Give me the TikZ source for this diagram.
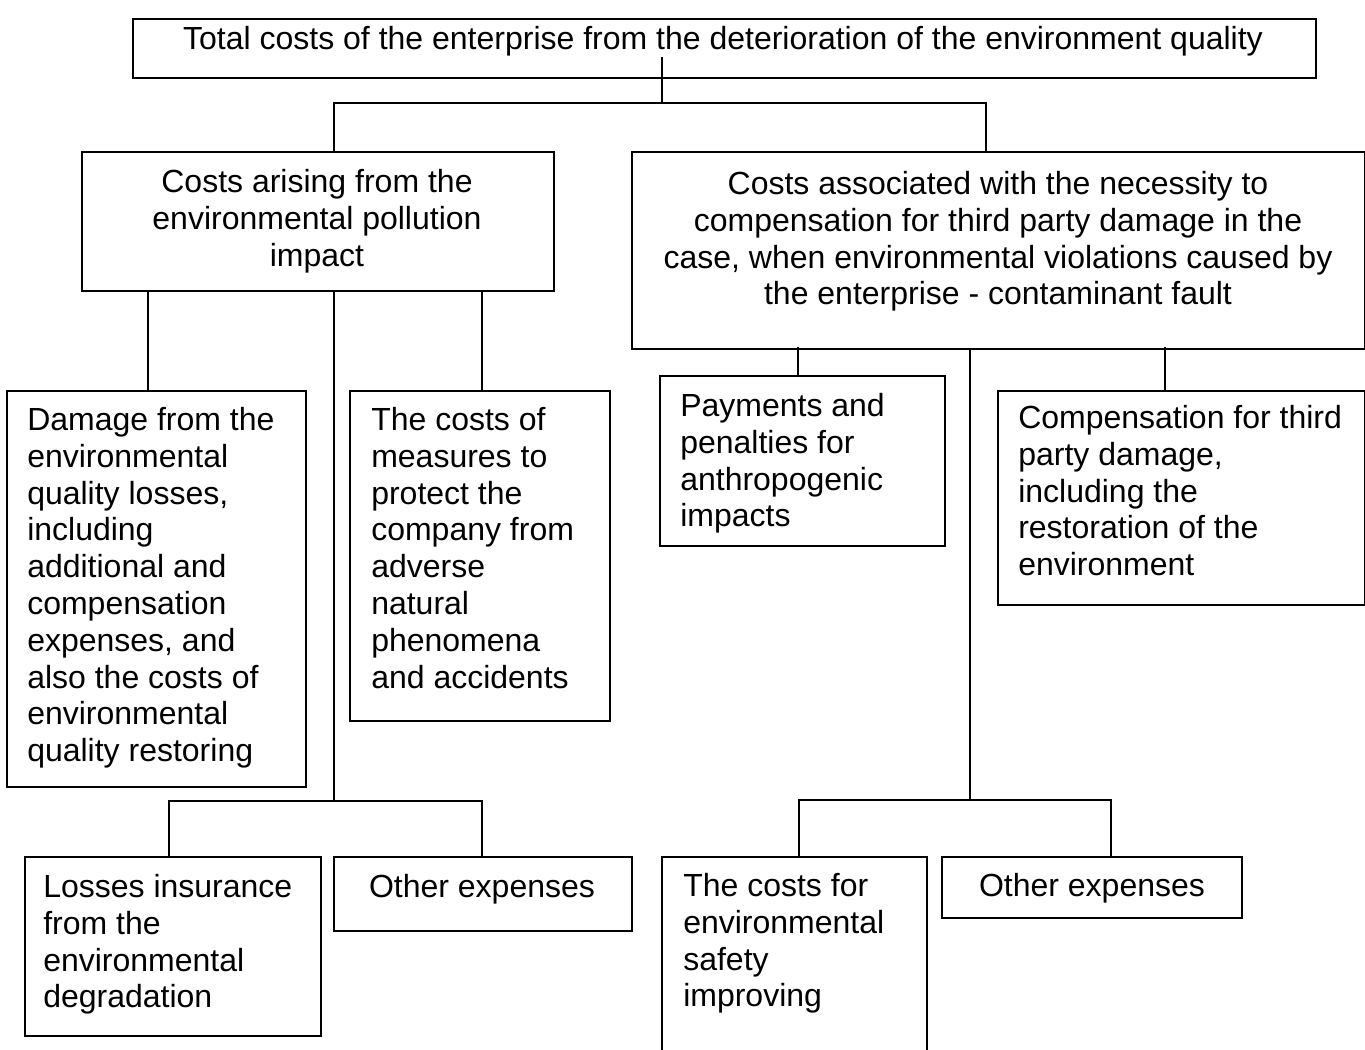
\documentclass[tikz,border=0pt]{standalone}
\usepackage{fontspec}
\setmainfont{Liberation Sans}
\begin{document}
\begin{tikzpicture}[x=0.75pt,y=-0.75pt,
  box/.style={draw, line width=1.4pt, inner sep=0pt, anchor=north west},
  conn/.style={line width=1.4pt},
  txt/.style={inner sep=0pt, align=left, anchor=north west, font=\fontsize{24}{27.6}\selectfont},
  ctxt/.style={inner sep=0pt, align=center, anchor=north, font=\fontsize{24}{27.6}\selectfont}]
\clip (0,0) rectangle (1365,1050);
% boxes
\node[box, minimum width=887.25pt, minimum height=44.25pt] (top) at (132,18) {};
\node[box, minimum width=354pt, minimum height=104.25pt] (l1) at (81,151) {};
\node[box, minimum width=549.75pt, minimum height=147.75pt] (r1) at (631,151) {};
\node[box, minimum width=224.25pt, minimum height=297pt] (l1a) at (6,390) {};
\node[box, minimum width=195pt, minimum height=247.5pt] (l1b) at (349,390) {};
\node[box, minimum width=213.75pt, minimum height=127.5pt] (r1a) at (659,375) {};
\node[box, minimum width=275.25pt, minimum height=160.5pt] (r1b) at (997,390) {};
\node[box, minimum width=222pt, minimum height=134.25pt] (l2a) at (24,856) {};
\node[box, minimum width=223.5pt, minimum height=55.5pt] (l2b) at (333,856) {};
\node[box, minimum width=198.75pt, minimum height=165pt] (r2a) at (661,856) {};
\node[box, minimum width=225pt, minimum height=45.75pt] (r2b) at (941,856) {};
% texts
\node[ctxt] (ttop) at (723,26) {Total costs of the enterprise from the deterioration of the environment quality};
\node[ctxt] (tl1) at (317,169) {Costs arising from the\\environmental pollution\\impact};
\node[ctxt] (tr1) at (998,171) {Costs associated with the necessity to\\compensation for third party damage in the\\case, when environmental violations caused by\\the enterprise - contaminant fault};
\node[txt] (tl1a) at (27,407) {Damage from the\\environmental\\quality losses,\\including\\additional and\\compensation\\expenses, and\\also the costs of\\environmental\\quality restoring};
\node[txt] (tl1b) at (371,407) {The costs of\\measures to\\protect the\\company from\\adverse\\natural\\phenomena\\and accidents};
\node[txt] (tr1a) at (680,393) {Payments and\\penalties for\\anthropogenic\\impacts};
\node[txt] (tr1b) at (1018,405) {Compensation for third\\party damage,\\including the\\restoration of the\\environment};
\node[txt] (tl2a) at (43,874) {Losses insurance\\from the\\environmental\\degradation};
\node[ctxt] (tl2b) at (482,874) {Other expenses};
\node[txt] (tr2a) at (683,873) {The costs for\\environmental\\safety\\improving};
\node[ctxt] (tr2b) at (1092,873) {Other expenses};
% junction coordinates
\coordinate (a0) at (662,57);
\coordinate (aL) at (334,103);
\coordinate (aR) at (986,103);
\coordinate (bL) at (148,300);
\coordinate (bM) at (334,300);
\coordinate (bR) at (482,300);
\coordinate (cL) at (169,801);
\coordinate (cM) at (334,801);
\coordinate (cR) at (482,801);
\coordinate (dL) at (798,300);
\coordinate (dM) at (970,300);
\coordinate (dR) at (1165,300);
\coordinate (eL) at (799,800);
\coordinate (eM) at (970,800);
\coordinate (eR) at (1111,800);
% connectors
\draw[conn] (a0) |- (aL) -- (l1.north -| aL);
\draw[conn] (a0) |- (aR) -- (r1.north -| aR);
\draw[conn] (l1.south -| bL) -- (l1a.north -| bL);
\draw[conn] (l1.south -| bR) -- (l1b.north -| bR);
\draw[conn] (l1.south -| bM) -- (cM);
\draw[conn] (cM) -| (l2a.north -| cL);
\draw[conn] (cM) -| (l2b.north -| cR);
\draw[conn] ([yshift=2pt]r1.south -| dL) -- (r1a.north -| dL);
\draw[conn] ([yshift=2pt]r1.south -| dR) -- (r1b.north -| dR);
\draw[conn] (r1.south -| dM) -- (eM);
\draw[conn] (eM) -| (r2a.north -| eL);
\draw[conn] (eM) -| (r2b.north -| eR);
\end{tikzpicture}
\end{document}
